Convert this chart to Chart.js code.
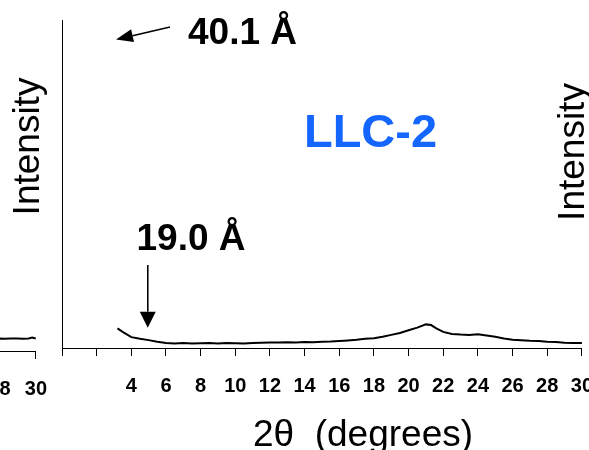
<!DOCTYPE html>
<html>
<head>
<meta charset="utf-8">
<script src="https://cdn.jsdelivr.net/npm/chart.js@4"></script>
<style>
  html, body { margin: 0; padding: 0; background: #fff; overflow: hidden; }
  #wrap { position: relative; width: 589px; height: 450px; overflow: hidden; }
  #leftClip { position: absolute; left: 0; top: 0; width: 60px; height: 450px; overflow: hidden; }
  #leftChart { position: absolute; left: -535px; top: 0; }
  #mainChart { position: absolute; left: 0; top: 0; }
</style>
</head>
<body>
<div id="wrap">
  <div id="leftClip"><canvas id="leftChart" width="600" height="450"></canvas></div>
  <canvas id="mainChart" width="611" height="450"></canvas>
</div>
<script>
// LLC-2 diffractogram (2theta in degrees, intensity in arbitrary units)
const twoTheta = [3.2, 3.5, 4.0, 4.5, 5.0, 5.5, 6.0, 6.5, 7.0, 7.5, 8.0, 8.5, 9.0, 9.5, 10.0,
  10.5, 11.0, 11.5, 12.0, 12.5, 13.0, 13.5, 14.0, 14.5, 15.0, 15.5, 16.0, 16.5, 17.0, 17.5,
  18.0, 18.5, 19.0, 19.5, 20.0, 20.5, 21.0, 21.3, 21.6, 22.0, 22.5, 23.0, 23.5, 24.0, 24.5,
  25.0, 25.5, 26.0, 26.5, 27.0, 27.5, 28.0, 28.5, 29.0, 29.5, 30.0];
const intensity = [6.0, 4.9, 3.3, 2.8, 2.4, 1.9, 1.5, 1.4, 1.5, 1.4, 1.45, 1.5, 1.4, 1.55, 1.45,
  1.4, 1.5, 1.6, 1.7, 1.65, 1.75, 1.7, 1.8, 1.75, 1.9, 1.95, 2.1, 2.3, 2.5, 2.8,
  3.0, 3.4, 4.0, 4.6, 5.4, 6.2, 7.2, 7.0, 6.0, 4.9, 4.3, 4.1, 4.0, 4.2, 3.8,
  3.4, 2.9, 2.5, 2.4, 2.2, 2.1, 1.9, 1.8, 1.6, 1.5, 1.5];

// tail of the neighbouring panel on the left
const leftTwoTheta = [26.0, 26.5, 27.0, 27.5, 28.0, 28.3, 28.6, 29.0, 29.3, 29.6, 29.8, 30.0];
const leftIntensity = [3.9, 3.8, 3.9, 3.7, 3.8, 3.7, 3.8, 3.75, 3.7, 3.8, 4.1, 3.8];

const xTicks = [0, 2, 4, 6, 8, 10, 12, 14, 16, 18, 20, 22, 24, 26, 28, 30];

// peak labels: d-spacing and the 2theta the arrow points to
const peakLabels = ['40.1 Å', '19.0 Å'];
const peak19x = 4.95;

const FONT = '"Liberation Sans", Arial, sans-serif';

function toPoints(xs, ys) {
  return xs.map((v, i) => ({ x: v, y: ys[i] }));
}

function drawArrow(ctx, x1, y1, x2, y2, headLen, headHalf) {
  const ang = Math.atan2(y2 - y1, x2 - x1);
  const bx = x2 - headLen * Math.cos(ang);
  const by = y2 - headLen * Math.sin(ang);
  ctx.lineWidth = 1.6;
  ctx.beginPath();
  ctx.moveTo(x1, y1);
  ctx.lineTo(bx, by);
  ctx.stroke();
  ctx.beginPath();
  ctx.moveTo(x2, y2);
  ctx.lineTo(bx + headHalf * Math.sin(ang), by - headHalf * Math.cos(ang));
  ctx.lineTo(bx - headHalf * Math.sin(ang), by + headHalf * Math.cos(ang));
  ctx.closePath();
  ctx.fill();
}

// Text and arrows drawn on top of the main panel
const annotations = {
  id: 'annotations',
  afterDraw(chart) {
    const { ctx, scales: { x, y } } = chart;
    ctx.save();
    ctx.fillStyle = '#000';
    ctx.strokeStyle = '#000';

    // low-angle peak sits off the plot, so the arrow points out of it
    drawArrow(ctx, 170, 27, 116, 39.5, 17, 6.5);
    ctx.font = 'bold 37px ' + FONT;
    ctx.textAlign = 'left';
    ctx.textBaseline = 'alphabetic';
    ctx.fillText(peakLabels[0], 188, 44.3);

    const ax = x.getPixelForValue(peak19x);
    drawArrow(ctx, ax, y.getPixelForValue(25.3), ax, y.getPixelForValue(6.2), 16, 8);
    ctx.fillText(peakLabels[1], 136.5, 250);

    ctx.fillStyle = '#1466ff';
    ctx.font = 'bold 47px ' + FONT;
    ctx.textAlign = 'center';
    ctx.fillText('LLC-2', 370.5, 147.3);

    ctx.fillStyle = '#000';
    ctx.font = '37px ' + FONT;
    ctx.fillText('2θ  (degrees)', 363, 446);

    // y titles: this panel's and the cut-off one of the next panel
    [[39.3, 146.5], [584, 152]].forEach(([tx, ty]) => {
      ctx.save();
      ctx.translate(tx, ty);
      ctx.rotate(-Math.PI / 2);
      ctx.fillText('Intensity', 0, 0);
      ctx.restore();
    });
    ctx.restore();
  }
};

function axisOptions(withLabels) {
  return {
    x: {
      type: 'linear',
      min: 0,
      max: 30,
      afterBuildTicks: axis => { axis.ticks = xTicks.map(v => ({ value: v })); },
      grid: { display: true, drawOnChartArea: false, drawTicks: true, tickLength: 8, color: '#000', lineWidth: 1 },
      border: { display: true, color: '#000', width: 1 },
      ticks: {
        color: '#000',
        padding: 18,
        maxRotation: 0,
        autoSkip: false,
        font: { family: FONT, size: 20, weight: 'bold' },
        callback: v => (v >= withLabels ? v : '')
      }
    },
    y: {
      min: 0,
      max: 100,
      display: true,
      grid: { display: false },
      border: { display: true, color: '#000', width: 1 },
      ticks: { display: false }
    }
  };
}

new Chart(document.getElementById('leftChart'), {
  type: 'line',
  data: {
    datasets: [{
      data: toPoints(leftTwoTheta, leftIntensity),
      borderColor: '#000',
      borderWidth: 2,
      pointRadius: 0,
      tension: 0
    }]
  },
  options: {
    responsive: false,
    animation: false,
    devicePixelRatio: 1,
    layout: { padding: { left: 10, right: 0, top: 20, bottom: 31 } },
    plugins: { legend: { display: false }, tooltip: { enabled: false } },
    scales: axisOptions(0)
  }
});

new Chart(document.getElementById('mainChart'), {
  type: 'line',
  data: {
    datasets: [{
      data: toPoints(twoTheta, intensity),
      borderColor: '#000',
      borderWidth: 2,
      pointRadius: 0,
      tension: 0
    }]
  },
  options: {
    responsive: false,
    animation: false,
    devicePixelRatio: 1,
    layout: { padding: { left: 54, right: 0, top: 20, bottom: 34 } },
    plugins: { legend: { display: false }, tooltip: { enabled: false } },
    scales: axisOptions(4)
  },
  plugins: [annotations]
});
</script>
</body>
</html>
